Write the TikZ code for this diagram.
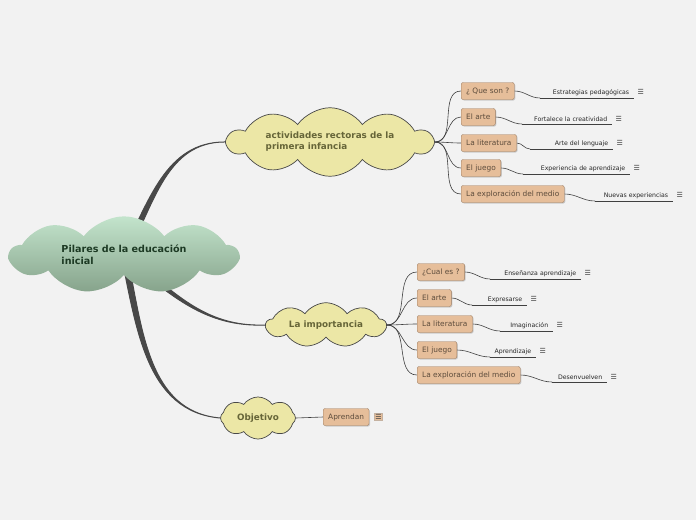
\documentclass[tikz,border=0pt]{standalone}
\usepackage{fontspec}
\setmainfont{DejaVu Sans}
\usetikzlibrary{shapes.symbols, shadows, backgrounds, positioning}
\definecolor{fondo}{HTML}{F2F2F2}
\definecolor{nube}{HTML}{ECE7A6}
\definecolor{textonube}{HTML}{666538}
\definecolor{caja}{HTML}{E6BE9A}
\definecolor{bordecaja}{HTML}{9E7E62}
\definecolor{textocaja}{HTML}{5D4C3C}
\definecolor{enlace}{HTML}{484848}
\definecolor{verdeclaro}{HTML}{C3E4CC}
\definecolor{verdeoscuro}{HTML}{86A38B}
\definecolor{textoraiz}{HTML}{1D3A24}

\begin{document}
\begin{tikzpicture}[
    x=1pt, y=-1pt,
    raiz/.style={cloud, cloud puffs=9, cloud puff arc=105, cloud ignores aspect=false,
                 aspect=3.5, top color=verdeclaro, bottom color=verdeoscuro,
                 minimum width=228pt, minimum height=70pt,
                 inner sep=0pt, align=left, text=textoraiz,
                 font=\fontsize{9.6}{12}\selectfont\bfseries},
    tema/.style={cloud, cloud puffs=10, cloud puff arc=110, cloud ignores aspect=false,
                 draw=enlace, fill=nube, line width=0.7pt, inner sep=0pt, align=left,
                 text=textonube, font=\fontsize{8.8}{11}\selectfont\bfseries},
    sub/.style={rectangle, rounded corners=2pt, fill=caja, draw=bordecaja,
                drop shadow={shadow xshift=1pt, shadow yshift=-1pt, opacity=0.35},
                minimum height=17pt, inner xsep=5pt, inner ysep=0pt, anchor=west,
                text=textocaja, font=\fontsize{7.4}{8}\selectfont},
    hoja/.style={anchor=south west, align=right, inner xsep=0pt, inner ysep=2.5pt,
                 text=black!85, font=\fontsize{6.2}{7}\selectfont},
    icono/.style={anchor=west, inner sep=0pt, text=black!75,
                  font=\fontsize{7}{8}\selectfont},
    rama/.style={fill=enlace, draw=enlace, line width=1pt, line join=round},
    fino/.style={draw=black!75, line width=0.6pt}
]
\useasboundingbox (0,0) rectangle (696,520);

% temas
\node (raiz) [raiz] at (124,255) {Pilares de la educación\\inicial};
\node (t1) [tema, aspect=4.4, inner ysep=-4pt, minimum width=205pt, minimum height=50pt]
    at (330,142) {actividades rectoras de la\\primera infancia};
\node (t2) [tema, cloud puffs=9, aspect=3.8, minimum width=120pt, minimum height=34pt]
    at (326,325) {La importancia};
\node (t3) [tema, cloud puffs=8, aspect=1.8, minimum width=75pt, minimum height=41pt]
    at (258,418) {Objetivo};

% subtemas de las actividades rectoras
\node (s1) [sub] at (461,91) {¿ Que son ?};
\node (s2) [sub] at (461,117) {El arte};
\node (s3) [sub] at (461,143) {La literatura};
\node (s4) [sub] at (461,168) {El juego};
\node (s5) [sub] at (461,194) {La exploración del medio};

% subtemas de la importancia
\node (s6) [sub] at (417,272) {¿Cual es ?};
\node (s7) [sub] at (417,298) {El arte};
\node (s8) [sub] at (417,324) {La literatura};
\node (s9) [sub] at (417,350) {El juego};
\node (s10) [sub] at (417,375) {La exploración del medio};

\node (s11) [sub] at (323,417) {Aprendan};
\node (i11) [icono, fill=caja, draw=bordecaja!60, inner sep=1pt, right=5pt of s11] {☰};

% hojas
\node (h1) [hoja, text width=89pt] at (540,98) {Estrategias pedagógicas};
\node (h2) [hoja, text width=85pt] at (522,124) {Fortalece la creatividad};
\node (h3) [hoja, text width=78pt] at (530,149) {Arte del lenguaje};
\node (h4) [hoja, text width=102pt] at (523,174) {Experiencia de aprendizaje};
\node (h5) [hoja, text width=73pt] at (595,201) {Nuevas experiencias};
\node (h6) [hoja, text width=86pt] at (490,279) {Enseñanza aprendizaje};
\node (h7) [hoja, text width=50pt] at (472,305) {Expresarse};
\node (h8) [hoja, text width=48pt] at (500,331) {Imaginación};
\node (h9) [hoja, text width=41pt] at (490,357) {Aprendizaje};
\node (h10) [hoja, text width=50pt] at (552,382) {Desenvuelven};

\node (i1) [icono, right=8pt of h1] {☰};
\node (i2) [icono, right=8pt of h2] {☰};
\node (i3) [icono, right=8pt of h3] {☰};
\node (i4) [icono, right=8pt of h4] {☰};
\node (i5) [icono, right=8pt of h5] {☰};
\node (i6) [icono, right=8pt of h6] {☰};
\node (i7) [icono, right=8pt of h7] {☰};
\node (i8) [icono, right=8pt of h8] {☰};
\node (i9) [icono, right=8pt of h9] {☰};
\node (i10) [icono, right=8pt of h10] {☰};

% subrayados
\draw [fino] (h1.south west) -- ([xshift=5pt]h1.south east);
\draw [fino] (h2.south west) -- ([xshift=5pt]h2.south east);
\draw [fino] (h3.south west) -- ([xshift=5pt]h3.south east);
\draw [fino] (h4.south west) -- ([xshift=5pt]h4.south east);
\draw [fino] (h5.south west) -- ([xshift=5pt]h5.south east);
\draw [fino] (h6.south west) -- ([xshift=5pt]h6.south east);
\draw [fino] (h7.south west) -- ([xshift=5pt]h7.south east);
\draw [fino] (h8.south west) -- ([xshift=5pt]h8.south east);
\draw [fino] (h9.south west) -- ([xshift=5pt]h9.south east);
\draw [fino] (h10.south west) -- ([xshift=5pt]h10.south east);

\begin{pgfonlayer}{background}
\fill [fondo] (0,0) rectangle (696,520);
% ramas principales (afinadas hacia el tema)
\draw [rama] ([xshift=-3pt]raiz.center) to[out=62, in=180] (t1.west)
    to[out=180, in=62] ([xshift=3pt]raiz.center) -- cycle;
\draw [rama] ([yshift=-3pt]raiz.center) to[out=-38, in=182] (t2.west)
    to[out=182, in=-38] ([yshift=3pt]raiz.center) -- cycle;
\draw [rama] ([xshift=-3pt]raiz.center) to[out=-78, in=175] (t3.west)
    to[out=175, in=-78] ([xshift=3pt]raiz.center) -- cycle;
% ramas secundarias
\draw [fino] (t1.east) to[out=0, in=180] (s1.west);
\draw [fino] (t1.east) to[out=0, in=180] (s2.west);
\draw [fino] (t1.east) to[out=0, in=180] (s3.west);
\draw [fino] (t1.east) to[out=0, in=180] (s4.west);
\draw [fino] (t1.east) to[out=0, in=180] (s5.west);
\draw [fino] (t2.east) to[out=0, in=180] (s6.west);
\draw [fino] (t2.east) to[out=0, in=180] (s7.west);
\draw [fino] (t2.east) to[out=0, in=180] (s8.west);
\draw [fino] (t2.east) to[out=0, in=180] (s9.west);
\draw [fino] (t2.east) to[out=0, in=180] (s10.west);
\draw [fino] (t3.east) -- (s11.west);
% hacia las hojas
\draw [fino] (s1.east) to[out=0, in=180] (h1.south west);
\draw [fino] (s2.east) to[out=0, in=180] (h2.south west);
\draw [fino] (s3.east) to[out=0, in=180] (h3.south west);
\draw [fino] (s4.east) to[out=0, in=180] (h4.south west);
\draw [fino] (s5.east) to[out=0, in=180] (h5.south west);
\draw [fino] (s6.east) to[out=0, in=180] (h6.south west);
\draw [fino] (s7.east) to[out=0, in=180] (h7.south west);
\draw [fino] (s8.east) to[out=0, in=180] (h8.south west);
\draw [fino] (s9.east) to[out=0, in=180] (h9.south west);
\draw [fino] (s10.east) to[out=0, in=180] (h10.south west);
\end{pgfonlayer}
\end{tikzpicture}
\end{document}
